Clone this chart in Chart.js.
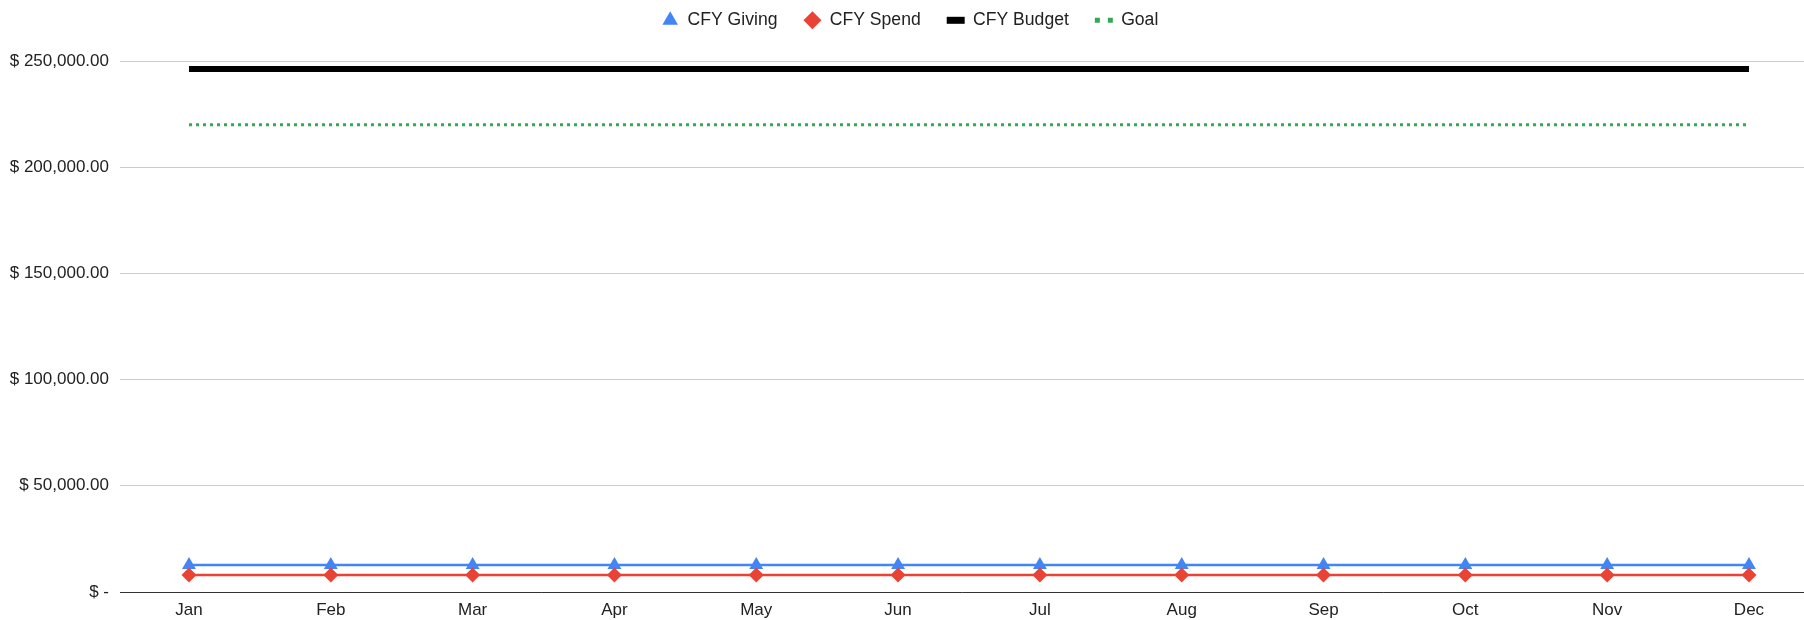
<!DOCTYPE html>
<html lang="en">
<head>
    <meta charset="UTF-8">
    <title>CFY Giving vs Spend</title>
    <script src="https://cdn.jsdelivr.net/npm/chart.js"></script>
    <style>
        html, body { margin: 0; padding: 0; background: #fff; }
        #wrap { width: 1804px; height: 620px; position: relative; }
    </style>
</head>
<body>
    <div id="wrap"><canvas id="budgetChart"></canvas></div>

    <script>
        // data
        var months = ['Jan', 'Feb', 'Mar', 'Apr', 'May', 'Jun', 'Jul', 'Aug', 'Sep', 'Oct', 'Nov', 'Dec'];
        var cfyGiving = [12700, 12700, 12700, 12700, 12700, 12700, 12700, 12700, 12700, 12700, 12700, 12700];
        var cfySpend = [8000, 8000, 8000, 8000, 8000, 8000, 8000, 8000, 8000, 8000, 8000, 8000];
        var cfyBudget = [246200, 246200, 246200, 246200, 246200, 246200, 246200, 246200, 246200, 246200, 246200, 246200];
        var goal = [220000, 220000, 220000, 220000, 220000, 220000, 220000, 220000, 220000, 220000, 220000, 220000];
        var yTickLabels = ['$ -', '$ 50,000.00', '$ 100,000.00', '$ 150,000.00', '$ 200,000.00', '$ 250,000.00'];

        function toPoints(arr) {
            return arr.map(function (v, i) { return { x: i, y: v }; });
        }

        Chart.defaults.font.family = "'Liberation Sans', Arial, sans-serif";
        Chart.defaults.font.size = 17;
        Chart.defaults.color = '#222';

        // push the plot area down below the legend, nudge legend a bit right
        var legendGap = {
            id: 'legendGap',
            beforeInit: function (chart) {
                var origFit = chart.legend.fit;
                chart.legend.fit = function () {
                    origFit.bind(chart.legend)();
                    this.height += 21.9;
                };
            },
            afterLayout: function (chart) {
                chart.legend.left += 8;
                chart.legend.right += 8;
            }
        };

        var ctx = document.getElementById('budgetChart').getContext('2d');
        var chart = new Chart(ctx, {
            type: 'line',
            data: {
                datasets: [{
                    label: 'CFY Giving',
                    data: toPoints(cfyGiving),
                    borderColor: '#4285F4',
                    backgroundColor: '#4285F4',
                    borderWidth: 2.5,
                    pointStyle: 'triangle',
                    pointRadius: 8,
                    pointBorderWidth: 0,
                    order: 1
                }, {
                    label: 'CFY Spend',
                    data: toPoints(cfySpend),
                    borderColor: '#EA4335',
                    backgroundColor: '#EA4335',
                    borderWidth: 2.5,
                    pointStyle: 'rectRot',
                    pointRadius: 7.5,
                    pointBorderWidth: 0,
                    order: 0
                }, {
                    label: 'CFY Budget',
                    data: toPoints(cfyBudget),
                    borderColor: '#000000',
                    backgroundColor: '#000000',
                    borderWidth: 6,
                    pointRadius: 0,
                    order: 3
                }, {
                    label: 'Goal',
                    data: toPoints(goal),
                    borderColor: '#34A853',
                    backgroundColor: '#34A853',
                    borderWidth: 3,
                    borderDash: [3, 4],
                    pointRadius: 0,
                    order: 2
                }]
            },
            options: {
                responsive: true,
                maintainAspectRatio: false,
                animation: false,
                layout: { autoPadding: false, padding: { top: -15, left: 0, right: 0, bottom: 0 } },
                plugins: {
                    tooltip: { enabled: false },
                    legend: {
                        position: 'top',
                        labels: {
                            usePointStyle: true,
                            boxWidth: 17,
                            boxHeight: 12.7,
                            padding: 26.5,
                            color: '#222',
                            font: { size: 17.6 },
                            sort: function (a, b) { return a.datasetIndex - b.datasetIndex; },
                            generateLabels: function (chart) {
                                var items = Chart.defaults.plugins.legend.labels.generateLabels(chart);
                                items.forEach(function (it) {
                                    if (it.datasetIndex === 2) {
                                        it.pointStyle = 'line';
                                        it.lineWidth = 7;
                                        it.lineDash = [];
                                        it.strokeStyle = '#000000';
                                    } else if (it.datasetIndex === 3) {
                                        it.pointStyle = 'line';
                                        it.lineWidth = 5;
                                        it.lineDash = [5, 8];
                                        it.lineCap = 'butt';
                                        it.strokeStyle = '#34A853';
                                    } else {
                                        it.lineWidth = 0;
                                    }
                                });
                                return items;
                            }
                        }
                    }
                },
                scales: {
                    x: {
                        type: 'linear',
                        min: -0.4865,
                        max: 11.388,
                        afterBuildTicks: function (scale) {
                            scale.ticks = months.map(function (m, i) { return { value: i }; });
                        },
                        afterFit: function (scale) {
                            scale.height = 28;
                            scale.paddingLeft = 0;
                            scale.paddingRight = 0;
                        },
                        grid: { display: false, drawTicks: false },
                        border: { display: true, color: '#333333', width: 1 },
                        ticks: {
                            autoSkip: false,
                            maxRotation: 0,
                            padding: 8,
                            color: '#222',
                            callback: function (v) {
                                return months[v] || '';
                            }
                        }
                    },
                    y: {
                        min: 0,
                        max: 250000,
                        afterFit: function (scale) { scale.width = 120; },
                        grid: { color: '#cccccc', lineWidth: 1, drawTicks: false },
                        border: { display: false },
                        ticks: {
                            stepSize: 50000,
                            padding: 11,
                            color: '#222',
                            callback: function (v) {
                                return yTickLabels[Math.round(v / 50000)];
                            }
                        }
                    }
                }
            },
            plugins: [legendGap]
        });
    </script>
</body>
</html>
